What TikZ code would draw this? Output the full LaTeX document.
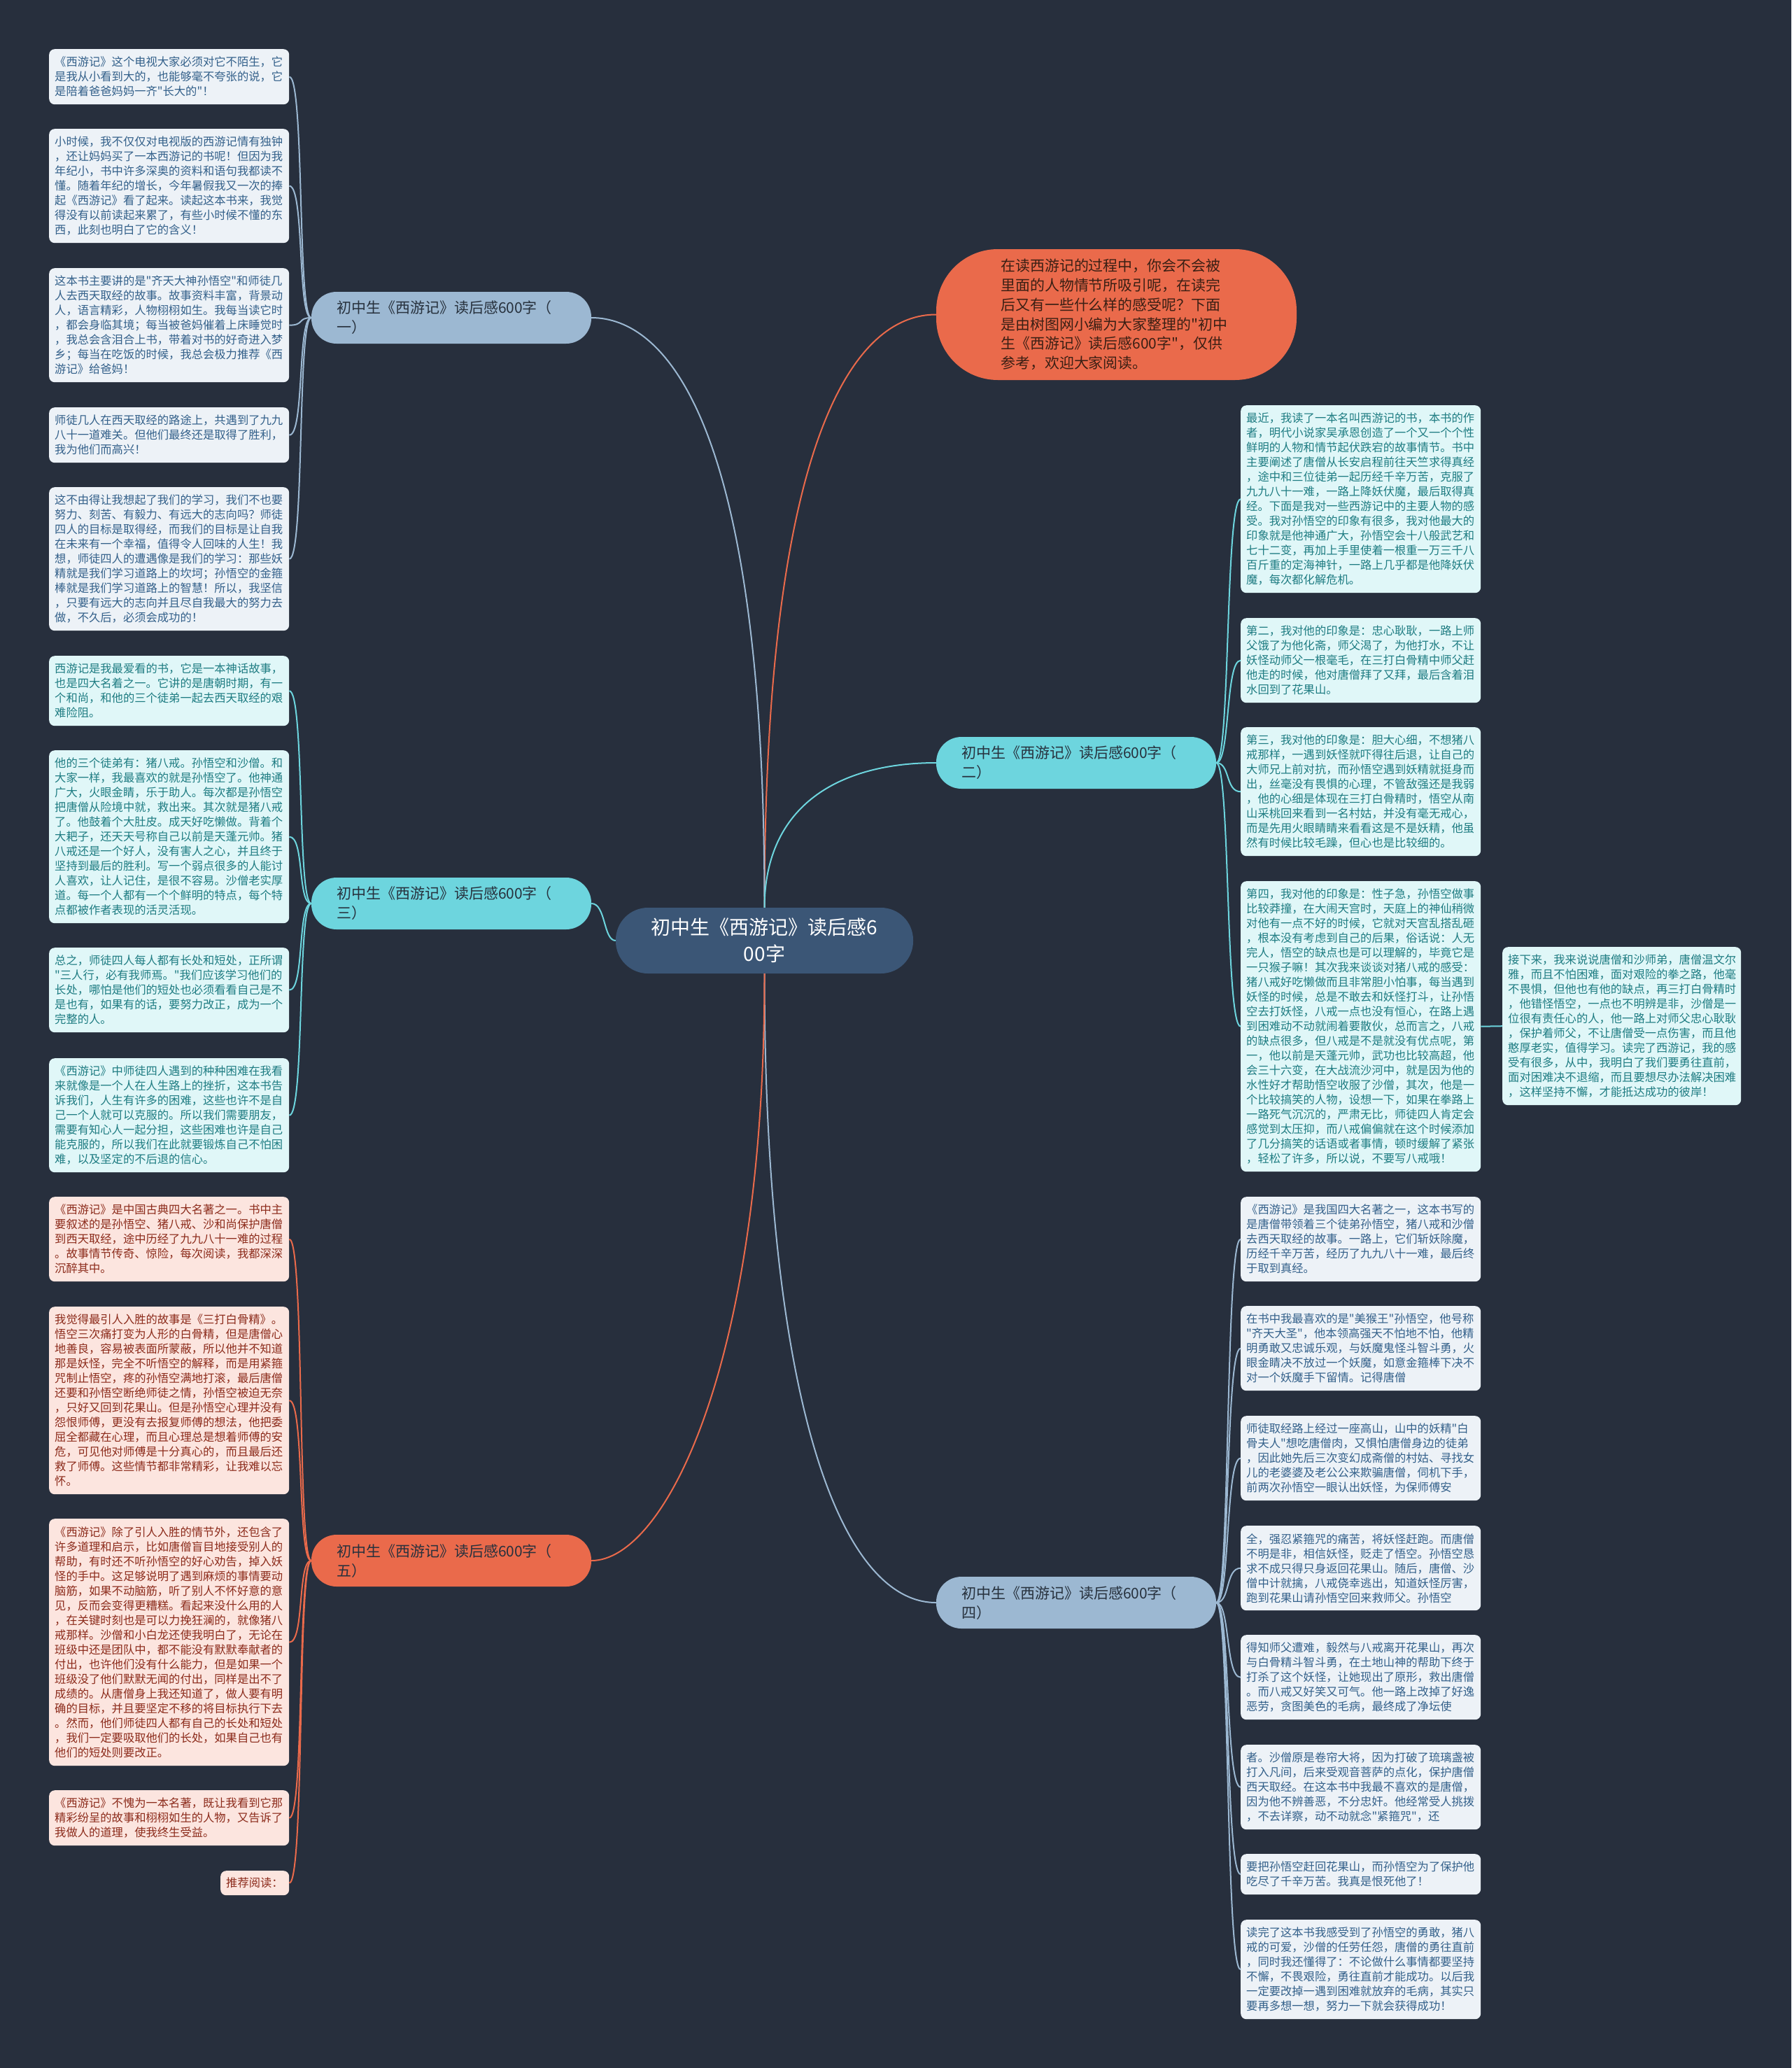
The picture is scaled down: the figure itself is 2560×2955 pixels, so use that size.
\documentclass[tikz,border=0pt]{standalone}
\usepackage{fontspec}
\setmainfont{Noto Sans CJK SC}[Ligatures=TeXOff]
\usetikzlibrary{positioning}

\definecolor{bgnavy}{HTML}{272F3D}
\definecolor{rootfill}{HTML}{3B5676}
\definecolor{bluefill}{HTML}{9CB8D2}
\definecolor{cyanfill}{HTML}{6DD5DE}
\definecolor{redfill}{HTML}{EA6A4B}
\definecolor{paleblue}{HTML}{EDF2F7}
\definecolor{palecyan}{HTML}{E0F7F8}
\definecolor{palered}{HTML}{FCE5DF}
\definecolor{inkblue}{HTML}{33608A}
\definecolor{inkcyan}{HTML}{1E7C82}
\definecolor{inkred}{HTML}{8C2B1B}
\definecolor{inkdark}{HTML}{27313D}
\definecolor{inkbrown}{HTML}{3A1F14}

\begin{document}
\begin{tikzpicture}[x=1pt,y=-1pt,
  leaf/.style={anchor=north west,rounded corners=8,text width=327,inner xsep=8,inner ysep=0,align=left,font=\fontsize{16.3}{21}\selectfont},
  leafb/.style={leaf,fill=paleblue,text=inkblue},
  leafc/.style={leaf,fill=palecyan,text=inkcyan},
  leafr/.style={leaf,fill=palered,text=inkred},
  branch/.style={rounded corners=36,minimum height=74,text width=328,inner xsep=36,align=left,font=\fontsize{21}{28}\selectfont,text=inkdark},
  link/.style={line width=2}]
\fill[bgnavy] (0,0) rectangle (2560,2955);
\useasboundingbox (0,0) rectangle (2560,2955);

% root, intro and branches
\node[fill=rootfill,rounded corners=46,minimum width=425,minimum height=94,text width=390,align=center,text=white,font=\fontsize{28}{38}\selectfont] (root) at (1092.5,1344) {初中生《西游记》读后感6\\00字};
\node[fill=redfill,rounded corners=88,minimum width=515,minimum height=187,text width=330,align=left,text=inkbrown,font=\fontsize{20.9}{27.7}\selectfont] (intro) at (1595.5,449.5) {在读西游记的过程中，你会不会被\\里面的人物情节所吸引呢，在读完\\后又有一些什么样的感受呢？下面\\是由树图网小编为大家整理的"初中\\生《西游记》读后感600字"，仅供\\参考，欢迎大家阅读。};
\node[branch,fill=bluefill] (b1) at (645,454) {初中生《西游记》读后感600字（\\一）};
\node[branch,fill=cyanfill] (b3) at (645,1291) {初中生《西游记》读后感600字（\\三）};
\node[branch,fill=redfill] (b5) at (645,2230) {初中生《西游记》读后感600字（\\五）};
\node[branch,fill=cyanfill] (b2) at (1538,1090) {初中生《西游记》读后感600字（\\二）};
\node[branch,fill=bluefill] (b4) at (1538,2290) {初中生《西游记》读后感600字（\\四）};

% left, group one
\node[leafb,minimum height=79] (l1a) at (70,70) {《西游记》这个电视大家必须对它不陌生，它\\是我从小看到大的，也能够毫不夸张的说，它\\是陪着爸爸妈妈一齐"长大的"！};
\node[leafb,minimum height=163] (l1b) at (70,184) {小时候，我不仅仅对电视版的西游记情有独钟\\，还让妈妈买了一本西游记的书呢！但因为我\\年纪小，书中许多深奥的资料和语句我都读不\\懂。随着年纪的增长，今年暑假我又一次的捧\\起《西游记》看了起来。读起这本书来，我觉\\得没有以前读起来累了，有些小时候不懂的东\\西，此刻也明白了它的含义！};
\node[leafb,minimum height=163] (l1c) at (70,383) {这本书主要讲的是"齐天大神孙悟空"和师徒几\\人去西天取经的故事。故事资料丰富，背景动\\人，语言精彩，人物栩栩如生。我每当读它时\\，都会身临其境；每当被爸妈催着上床睡觉时\\，我总会含泪合上书，带着对书的好奇进入梦\\乡；每当在吃饭的时候，我总会极力推荐《西\\游记》给爸妈！};
\node[leafb,minimum height=79] (l1d) at (70,582) {师徒几人在西天取经的路途上，共遇到了九九\\八十一道难关。但他们最终还是取得了胜利，\\我为他们而高兴！};
\node[leafb,minimum height=205] (l1e) at (70,696) {这不由得让我想起了我们的学习，我们不也要\\努力、刻苦、有毅力、有远大的志向吗？师徒\\四人的目标是取得经，而我们的目标是让自我\\在未来有一个幸福，值得令人回味的人生！我\\想，师徒四人的遭遇像是我们的学习：那些妖\\精就是我们学习道路上的坎坷；孙悟空的金箍\\棒就是我们学习道路上的智慧！所以，我坚信\\，只要有远大的志向并且尽自我最大的努力去\\做，不久后，必须会成功的！};

% left, group three
\node[leafc,minimum height=100] (l3a) at (70,937) {西游记是我最爱看的书，它是一本神话故事，\\也是四大名着之一。它讲的是唐朝时期，有一\\个和尚，和他的三个徒弟一起去西天取经的艰\\难险阻。};
\node[leafc,minimum height=247] (l3b) at (70,1072) {他的三个徒弟有：猪八戒。孙悟空和沙僧。和\\大家一样，我最喜欢的就是孙悟空了。他神通\\广大，火眼金睛，乐于助人。每次都是孙悟空\\把唐僧从险境中就，救出来。其次就是猪八戒\\了。他鼓着个大肚皮。成天好吃懒做。背着个\\大耙子，还天天号称自己以前是天蓬元帅。猪\\八戒还是一个好人，没有害人之心，并且终于\\坚持到最后的胜利。写一个弱点很多的人能讨\\人喜欢，让人记住，是很不容易。沙僧老实厚\\道。每一个人都有一个个鲜明的特点，每个特\\点都被作者表现的活灵活现。};
\node[leafc,minimum height=121] (l3c) at (70,1354) {总之，师徒四人每人都有长处和短处，正所谓\\"三人行，必有我师焉。"我们应该学习他们的\\长处，哪怕是他们的短处也必须看看自己是不\\是也有，如果有的话，要努力改正，成为一个\\完整的人。};
\node[leafc,minimum height=163] (l3d) at (70,1512) {《西游记》中师徒四人遇到的种种困难在我看\\来就像是一个人在人生路上的挫折，这本书告\\诉我们，人生有许多的困难，这些也许不是自\\己一个人就可以克服的。所以我们需要朋友，\\需要有知心人一起分担，这些困难也许是自己\\能克服的，所以我们在此就要锻炼自己不怕困\\难，以及坚定的不后退的信心。};

% left, group five
\node[leafr,minimum height=121] (l5a) at (70,1710) {《西游记》是中国古典四大名著之一。书中主\\要叙述的是孙悟空、猪八戒、沙和尚保护唐僧\\到西天取经，途中历经了九九八十一难的过程\\。故事情节传奇、惊险，每次阅读，我都深深\\沉醉其中。};
\node[leafr,minimum height=268] (l5b) at (70,1867) {我觉得最引人入胜的故事是《三打白骨精》。\\悟空三次痛打变为人形的白骨精，但是唐僧心\\地善良，容易被表面所蒙蔽，所以他并不知道\\那是妖怪，完全不听悟空的解释，而是用紧箍\\咒制止悟空，疼的孙悟空满地打滚，最后唐僧\\还要和孙悟空断绝师徒之情，孙悟空被迫无奈\\，只好又回到花果山。但是孙悟空心理并没有\\怨恨师傅，更没有去报复师傅的想法，他把委\\屈全都藏在心理，而且心理总是想着师傅的安\\危，可见他对师傅是十分真心的，而且最后还\\救了师傅。这些情节都非常精彩，让我难以忘\\怀。};
\node[leafr,minimum height=353] (l5c) at (70,2170) {《西游记》除了引人入胜的情节外，还包含了\\许多道理和启示，比如唐僧盲目地接受别人的\\帮助，有时还不听孙悟空的好心劝告，掉入妖\\怪的手中。这足够说明了遇到麻烦的事情要动\\脑筋，如果不动脑筋，听了别人不怀好意的意\\见，反而会变得更糟糕。看起来没什么用的人\\，在关键时刻也是可以力挽狂澜的，就像猪八\\戒那样。沙僧和小白龙还使我明白了，无论在\\班级中还是团队中，都不能没有默默奉献者的\\付出，也许他们没有什么能力，但是如果一个\\班级没了他们默默无闻的付出，同样是出不了\\成绩的。从唐僧身上我还知道了，做人要有明\\确的目标，并且要坚定不移的将目标执行下去\\。然而，他们师徒四人都有自己的长处和短处\\，我们一定要吸取他们的长处，如果自己也有\\他们的短处则要改正。};
\node[leafr,minimum height=79] (l5d) at (70,2558) {《西游记》不愧为一本名著，既让我看到它那\\精彩纷呈的故事和栩栩如生的人物，又告诉了\\我做人的道理，使我终生受益。};
\node[leafr,minimum height=35,text width=82] (l5e) at (315,2673) {推荐阅读：};

% right, group two
\node[leafc,minimum height=268] (r2a) at (1773,579) {最近，我读了一本名叫西游记的书，本书的作\\者，明代小说家吴承恩创造了一个又一个个性\\鲜明的人物和情节起伏跌宕的故事情节。书中\\主要阐述了唐僧从长安启程前往天竺求得真经\\，途中和三位徒弟一起历经千辛万苦，克服了\\九九八十一难，一路上降妖伏魔，最后取得真\\经。下面是我对一些西游记中的主要人物的感\\受。我对孙悟空的印象有很多，我对他最大的\\印象就是他神通广大，孙悟空会十八般武艺和\\七十二变，再加上手里使着一根重一万三千八\\百斤重的定海神针，一路上几乎都是他降妖伏\\魔，每次都化解危机。};
\node[leafc,minimum height=121] (r2b) at (1773,883) {第二，我对他的印象是：忠心耿耿，一路上师\\父饿了为他化斋，师父渴了，为他打水，不让\\妖怪动师父一根毫毛，在三打白骨精中师父赶\\他走的时候，他对唐僧拜了又拜，最后含着泪\\水回到了花果山。};
\node[leafc,minimum height=184] (r2c) at (1773,1039) {第三，我对他的印象是：胆大心细，不想猪八\\戒那样，一遇到妖怪就吓得往后退，让自己的\\大师兄上前对抗，而孙悟空遇到妖精就挺身而\\出，丝毫没有畏惧的心理，不管敌强还是我弱\\，他的心细是体现在三打白骨精时，悟空从南\\山采桃回来看到一名村姑，并没有毫无戒心，\\而是先用火眼睛睛来看看这是不是妖精，他虽\\然有时候比较毛躁，但心也是比较细的。};
\node[leafc,minimum height=415] (r2d) at (1773,1259) {第四，我对他的印象是：性子急，孙悟空做事\\比较莽撞，在大闹天宫时，天庭上的神仙稍微\\对他有一点不好的时候，它就对天宫乱搭乱砸\\，根本没有考虑到自己的后果，俗话说：人无\\完人，悟空的缺点也是可以理解的，毕竟它是\\一只猴子嘛！其次我来谈谈对猪八戒的感受：\\猪八戒好吃懒做而且非常胆小怕事，每当遇到\\妖怪的时候，总是不敢去和妖怪打斗，让孙悟\\空去打妖怪，八戒一点也没有恒心，在路上遇\\到困难动不动就闹着要散伙，总而言之，八戒\\的缺点很多，但八戒是不是就没有优点呢，第\\一，他以前是天蓬元帅，武功也比较高超，他\\会三十六变，在大战流沙河中，就是因为他的\\水性好才帮助悟空收服了沙僧，其次，他是一\\个比较搞笑的人物，设想一下，如果在拳路上\\一路死气沉沉的，严肃无比，师徒四人肯定会\\感觉到太压抑，而八戒偏偏就在这个时候添加\\了几分搞笑的话语或者事情，顿时缓解了紧张\\，轻松了许多，所以说，不要写八戒哦！};
\node[leafc,minimum height=226,text width=325] (fr) at (2147,1353) {接下来，我来说说唐僧和沙师弟，唐僧温文尔\\雅，而且不怕困难，面对艰险的拳之路，他毫\\不畏惧，但他也有他的缺点，再三打白骨精时\\，他错怪悟空，一点也不明辨是非，沙僧是一\\位很有责任心的人，他一路上对师父忠心耿耿\\，保护着师父，不让唐僧受一点伤害，而且他\\憨厚老实，值得学习。读完了西游记，我的感\\受有很多，从中，我明白了我们要勇往直前，\\面对困难决不退缩，而且要想尽办法解决困难\\，这样坚持不懈，才能抵达成功的彼岸！};

% right, group four
\node[leafb,minimum height=121] (r4a) at (1773,1710) {《西游记》是我国四大名著之一，这本书写的\\是唐僧带领着三个徒弟孙悟空，猪八戒和沙僧\\去西天取经的故事。一路上，它们斩妖除魔，\\历经千辛万苦，经历了九九八十一难，最后终\\于取到真经。};
\node[leafb,minimum height=121] (r4b) at (1773,1866) {在书中我最喜欢的是"美猴王"孙悟空，他号称\\"齐天大圣"，他本领高强天不怕地不怕，他精\\明勇敢又忠诚乐观，与妖魔鬼怪斗智斗勇，火\\眼金睛决不放过一个妖魔，如意金箍棒下决不\\对一个妖魔手下留情。记得唐僧};
\node[leafb,minimum height=121] (r4c) at (1773,2023) {师徒取经路上经过一座高山，山中的妖精"白\\骨夫人"想吃唐僧肉，又惧怕唐僧身边的徒弟\\，因此她先后三次变幻成斋僧的村姑、寻找女\\儿的老婆婆及老公公来欺骗唐僧，伺机下手，\\前两次孙悟空一眼认出妖怪，为保师傅安};
\node[leafb,minimum height=121] (r4d) at (1773,2180) {全，强忍紧箍咒的痛苦，将妖怪赶跑。而唐僧\\不明是非，相信妖怪，贬走了悟空。孙悟空恳\\求不成只得只身返回花果山。随后，唐僧、沙\\僧中计就擒，八戒侥幸逃出，知道妖怪厉害，\\跑到花果山请孙悟空回来救师父。孙悟空};
\node[leafb,minimum height=121] (r4e) at (1773,2336) {得知师父遭难，毅然与八戒离开花果山，再次\\与白骨精斗智斗勇，在土地山神的帮助下终于\\打杀了这个妖怪，让她现出了原形，救出唐僧\\。而八戒又好笑又可气。他一路上改掉了好逸\\恶劳，贪图美色的毛病，最终成了净坛使};
\node[leafb,minimum height=121] (r4f) at (1773,2493) {者。沙僧原是卷帘大将，因为打破了琉璃盏被\\打入凡间，后来受观音菩萨的点化，保护唐僧\\西天取经。在这本书中我最不喜欢的是唐僧，\\因为他不辨善恶，不分忠奸。他经常受人挑拨\\，不去详察，动不动就念"紧箍咒"，还};
\node[leafb,minimum height=58] (r4g) at (1773,2649) {要把孙悟空赶回花果山，而孙悟空为了保护他\\吃尽了千辛万苦。我真是恨死他了！};
\node[leafb,minimum height=142] (r4h) at (1773,2743) {读完了这本书我感受到了孙悟空的勇敢，猪八\\戒的可爱，沙僧的任劳任怨，唐僧的勇往直前\\，同时我还懂得了：不论做什么事情都要坚持\\不懈，不畏艰险，勇往直前才能成功。以后我\\一定要改掉一遇到困难就放弃的毛病，其实只\\要再多想一想，努力一下就会获得成功！};

% root links
\draw[link,redfill] (root.north) .. controls (1093,600) and (1230,449) .. (intro.west);
\draw[link,bluefill] (root.north) .. controls (1093,600) and (950,454) .. (b1.east);
\draw[link,cyanfill] (root.north) .. controls (1093,1150) and (1200,1090) .. (b2.west);
\draw[link,cyanfill] (root.west) .. controls (862,1344) and (866,1291) .. (b3.east);
\draw[link,bluefill] (root.south) .. controls (1093,2000) and (1200,2290) .. (b4.west);
\draw[link,redfill] (root.south) .. controls (1093,1950) and (950,2230) .. (b5.east);

% leaf links
\draw[link,bluefill] (b1.west) .. controls +(-20,0) and +(22,0) .. (l1a.east);
\draw[link,bluefill] (b1.west) .. controls +(-20,0) and +(22,0) .. (l1b.east);
\draw[link,bluefill] (b1.west) .. controls +(-20,0) and +(22,0) .. (l1c.east);
\draw[link,bluefill] (b1.west) .. controls +(-20,0) and +(22,0) .. (l1d.east);
\draw[link,bluefill] (b1.west) .. controls +(-20,0) and +(22,0) .. (l1e.east);
\draw[link,cyanfill] (b3.west) .. controls +(-20,0) and +(22,0) .. (l3a.east);
\draw[link,cyanfill] (b3.west) .. controls +(-20,0) and +(22,0) .. (l3b.east);
\draw[link,cyanfill] (b3.west) .. controls +(-20,0) and +(22,0) .. (l3c.east);
\draw[link,cyanfill] (b3.west) .. controls +(-20,0) and +(22,0) .. (l3d.east);
\draw[link,redfill] (b5.west) .. controls +(-20,0) and +(22,0) .. (l5a.east);
\draw[link,redfill] (b5.west) .. controls +(-20,0) and +(22,0) .. (l5b.east);
\draw[link,redfill] (b5.west) .. controls +(-20,0) and +(22,0) .. (l5c.east);
\draw[link,redfill] (b5.west) .. controls +(-20,0) and +(22,0) .. (l5d.east);
\draw[link,redfill] (b5.west) .. controls +(-20,0) and +(22,0) .. (l5e.east);
\draw[link,cyanfill] (b2.east) .. controls +(20,0) and +(-22,0) .. (r2a.west);
\draw[link,cyanfill] (b2.east) .. controls +(20,0) and +(-22,0) .. (r2b.west);
\draw[link,cyanfill] (b2.east) .. controls +(20,0) and +(-22,0) .. (r2c.west);
\draw[link,cyanfill] (b2.east) .. controls +(20,0) and +(-22,0) .. (r2d.west);
\draw[link,cyanfill] (r2d.east) -- (fr.west);
\draw[link,bluefill] (b4.east) .. controls +(20,0) and +(-22,0) .. (r4a.west);
\draw[link,bluefill] (b4.east) .. controls +(20,0) and +(-22,0) .. (r4b.west);
\draw[link,bluefill] (b4.east) .. controls +(20,0) and +(-22,0) .. (r4c.west);
\draw[link,bluefill] (b4.east) .. controls +(20,0) and +(-22,0) .. (r4d.west);
\draw[link,bluefill] (b4.east) .. controls +(20,0) and +(-22,0) .. (r4e.west);
\draw[link,bluefill] (b4.east) .. controls +(20,0) and +(-22,0) .. (r4f.west);
\draw[link,bluefill] (b4.east) .. controls +(20,0) and +(-22,0) .. (r4g.west);
\draw[link,bluefill] (b4.east) .. controls +(20,0) and +(-22,0) .. (r4h.west);
\end{tikzpicture}
\end{document}
